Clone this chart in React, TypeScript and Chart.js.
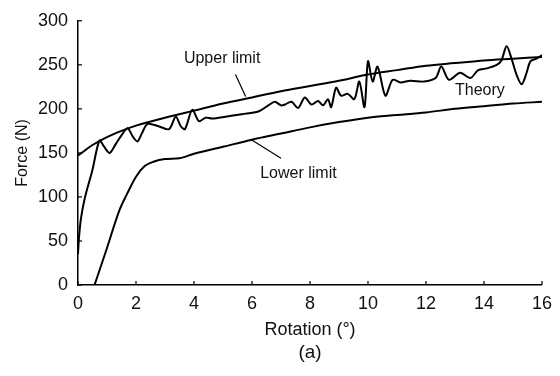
import React, { useEffect, useRef } from "react";
import { Chart, registerables } from "chart.js";

Chart.register(...registerables);

const upperX = [0, 0.5, 1, 1.5, 2, 3, 4, 5, 6, 7, 8, 9, 10, 11, 12, 13, 14, 15, 16];
const upperY = [147, 159, 168, 175, 181, 190, 198, 206, 213, 220, 226, 232, 239, 244, 249, 252, 255, 257, 259];

const lowerX = [0.57, 1.0, 1.43, 1.7, 2.0, 2.3, 2.6, 3.0, 3.5, 4, 5, 6, 7, 8, 9, 10, 11, 12, 13, 14, 15, 16];
const lowerY = [0, 42, 85, 104, 123, 135, 140, 143, 144, 149, 157, 165, 172, 179, 185, 190, 193, 196, 200, 203, 206, 208];

const theoryX = [0, 0.03, 0.1, 0.23, 0.5, 0.74, 0.9, 1.09, 1.3, 1.5, 1.71, 1.9, 2.05, 2.2, 2.4, 2.8, 3.14, 3.37, 3.55, 3.69, 3.94, 4.17, 4.4, 4.62, 5.08, 5.65, 6.22, 6.56, 6.79, 7.0, 7.14, 7.36, 7.59, 7.82, 8.05, 8.28, 8.45, 8.62, 8.73, 8.9, 9.07, 9.3, 9.53, 9.7, 9.88, 10.0, 10.16, 10.33, 10.6, 10.85, 11.12, 11.46, 11.93, 12.33, 12.53, 12.79, 13.18, 13.53, 13.8, 14.1, 14.44, 14.6, 14.78, 14.95, 15.12, 15.3, 15.47, 15.6, 15.81, 16.0];
const theoryY = [35, 52, 75, 98, 131, 164, 157, 150, 160, 170, 178, 168, 163, 172, 183, 180, 177, 191, 180, 177, 199, 186, 190, 189, 191, 194, 197, 204, 208, 204, 205, 208, 201, 213, 205, 209, 204, 211, 202, 224, 215, 217, 211, 231, 202, 254, 231, 248, 215, 233, 230, 232, 231, 235, 248, 233, 241, 235, 244, 246, 250, 255, 271, 257, 239, 228, 241, 254, 257, 261];

const xTicks = [0, 2, 4, 6, 8, 10, 12, 14, 16];
const yTicks = [0, 50, 100, 150, 200, 250, 300];

const pts = (xs: number[], ys: number[]) => xs.map((x, i) => ({ x, y: ys[i] }));

const FONT = "'Liberation Sans', Arial, sans-serif";

const annotPlugin = {
  id: "annot",
  afterDraw(chart: any) {
    const { ctx, scales } = chart;
    const xs = scales.x;
    const ys = scales.y;
    ctx.save();
    ctx.strokeStyle = "#000";
    ctx.lineWidth = 1.2;
    const bottom = ys.getPixelForValue(0);
    const left = xs.getPixelForValue(0);
    xTicks.forEach((t) => {
      const px = xs.getPixelForValue(t);
      ctx.beginPath();
      ctx.moveTo(px, bottom);
      ctx.lineTo(px, bottom - 4);
      ctx.stroke();
    });
    yTicks.forEach((t) => {
      const py = ys.getPixelForValue(t);
      ctx.beginPath();
      ctx.moveTo(left, py);
      ctx.lineTo(left + 4, py);
      ctx.stroke();
    });
    ctx.fillStyle = "#111";
    ctx.font = `16px ${FONT}`;
    ctx.textAlign = "center";
    ctx.textBaseline = "middle";
    ctx.fillText("Upper limit", xs.getPixelForValue(4.97), ys.getPixelForValue(257));
    ctx.fillText("Lower limit", xs.getPixelForValue(7.6), ys.getPixelForValue(126));
    ctx.fillText("Theory", xs.getPixelForValue(13.86), ys.getPixelForValue(221));
    ctx.lineWidth = 1.2;
    ctx.beginPath();
    ctx.moveTo(xs.getPixelForValue(5.43), ys.getPixelForValue(239));
    ctx.lineTo(xs.getPixelForValue(5.78), ys.getPixelForValue(214));
    ctx.stroke();
    ctx.beginPath();
    ctx.moveTo(xs.getPixelForValue(5.98), ys.getPixelForValue(165));
    ctx.lineTo(xs.getPixelForValue(7.0), ys.getPixelForValue(144));
    ctx.stroke();
    ctx.font = `19px ${FONT}`;
    ctx.fillStyle = "#111";
    ctx.fillText("(a)", (xs.left + xs.right) / 2, 353);
    ctx.restore();
  },
};

export default function App() {
  const ref = useRef<HTMLCanvasElement>(null);
  useEffect(() => {
    if (!ref.current) return;
    const lineDs = (data: any[], mode: any) => ({
      data,
      borderColor: "#000",
      borderWidth: 2,
      pointRadius: 0,
      fill: false,
      tension: mode === "monotone" ? 0 : 0.3,
      cubicInterpolationMode: mode,
    });
    const chart = new Chart(ref.current, {
      type: "line",
      data: {
        datasets: [
          lineDs(pts(upperX, upperY), "monotone"),
          lineDs(pts(lowerX, lowerY), "monotone"),
          lineDs(pts(theoryX, theoryY), "default"),
        ],
      },
      options: {
        responsive: false,
        animation: false,
        layout: { padding: { left: 0, right: 15, top: 15, bottom: 0 } },
        plugins: { legend: { display: false }, tooltip: { enabled: false } },
        scales: {
          x: {
            type: "linear",
            min: 0,
            max: 16,
            afterFit: (s: any) => { s.height = 91; },
            afterBuildTicks: (s: any) => { s.ticks = xTicks.map((v) => ({ value: v })); },
            grid: { display: true, drawOnChartArea: false, drawTicks: false },
            border: { display: true, color: "#000", width: 1.5 },
            ticks: { color: "#111", font: { family: FONT, size: 18 }, padding: 8, maxRotation: 0 },
            title: { display: true, text: "Rotation (°)", color: "#111", font: { family: FONT, size: 18 }, padding: { top: 0, bottom: 35 } },
          },
          y: {
            type: "linear",
            min: 0,
            max: 300,
            afterFit: (s: any) => { s.width = 78; },
            afterBuildTicks: (s: any) => { s.ticks = yTicks.map((v) => ({ value: v })); },
            grid: { display: true, drawOnChartArea: false, drawTicks: false },
            border: { display: true, color: "#000", width: 1.5 },
            ticks: { color: "#111", font: { family: FONT, size: 18 }, padding: 10 },
            title: { display: true, text: "Force (N)", color: "#111", font: { family: FONT, size: 16 }, padding: { top: 13, bottom: 0 } },
          },
        },
      },
      plugins: [annotPlugin],
    } as any);
    return () => chart.destroy();
  }, []);
  return (
    <div style={{ position: "fixed", left: 0, top: 0, width: 560, height: 376, background: "#fff" }}>
      <canvas ref={ref} width={560} height={376} style={{ width: 560, height: 376 }} />
    </div>
  );
}
